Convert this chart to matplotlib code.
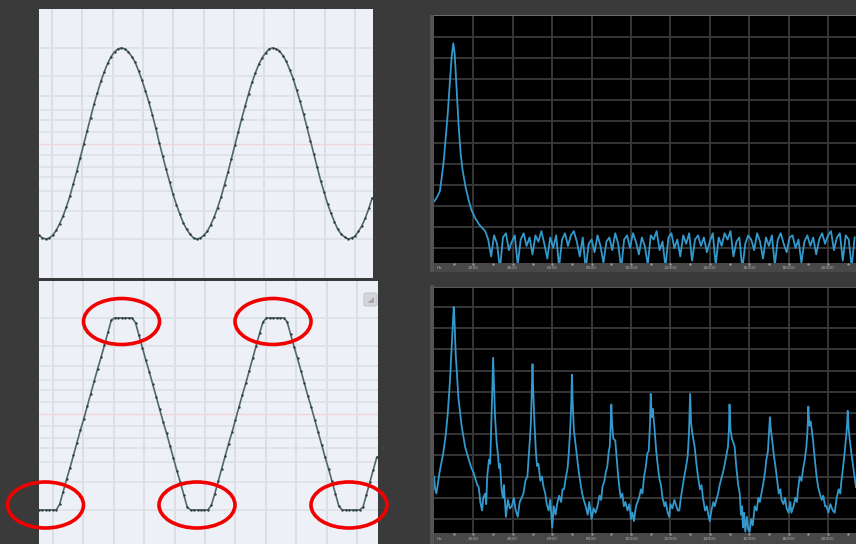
import numpy as np
import matplotlib.pyplot as plt
import matplotlib.patches as mpatches

# ---- waveform samples (44.1 kHz, 1 kHz tone)
clean_wave = [-0.96, -0.99, -1.00, -0.99, -0.96, -0.91, -0.84, -0.76, -0.66, -0.55,
              -0.42, -0.29, -0.15, -0.01, 0.13, 0.27, 0.41, 0.53, 0.65, 0.75,
              0.84, 0.91, 0.96, 0.99, 1.00, 0.99, 0.96, 0.91, 0.85, 0.76,
              0.66, 0.55, 0.43, 0.30, 0.16, 0.01, -0.13, -0.27, -0.40, -0.53,
              -0.64, -0.74, -0.83, -0.90, -0.95, -0.99, -1.00, -0.99, -0.96, -0.92,
              -0.85, -0.77, -0.67, -0.56, -0.43, -0.30, -0.16, -0.02, 0.12, 0.26,
              0.39, 0.52, 0.64, 0.74, 0.83, 0.90, 0.95, 0.99, 1.00, 0.99,
              0.97, 0.92, 0.86, 0.77, 0.68, 0.56, 0.44, 0.31, 0.17, 0.03,
              -0.11, -0.25, -0.39, -0.51, -0.63, -0.73, -0.82, -0.90, -0.95, -0.98,
              -1.00, -0.99, -0.97, -0.92, -0.86, -0.78, -0.68, -0.57]

clipped_wave = [-1.00, -1.00, -1.00, -1.00, -1.00, -1.00, -0.94, -0.81, -0.68, -0.56,
                -0.43, -0.30, -0.17, -0.05, 0.08, 0.21, 0.34, 0.47, 0.59, 0.72,
                0.85, 0.98, 1.00, 1.00, 1.00, 1.00, 1.00, 1.00, 0.95, 0.82,
                0.69, 0.56, 0.44, 0.31, 0.18, 0.05, -0.08, -0.20, -0.33, -0.46,
                -0.59, -0.71, -0.84, -0.97, -1.00, -1.00, -1.00, -1.00, -1.00, -1.00,
                -0.95, -0.83, -0.70, -0.57, -0.44, -0.31, -0.19, -0.06, 0.07, 0.20,
                0.32, 0.45, 0.58, 0.71, 0.84, 0.96, 1.00, 1.00, 1.00, 1.00,
                1.00, 1.00, 0.96, 0.83, 0.70, 0.58, 0.45, 0.32, 0.19, 0.07,
                -0.06, -0.19, -0.32, -0.45, -0.57, -0.70, -0.83, -0.96, -1.00, -1.00,
                -1.00, -1.00, -1.00, -1.00, -0.97, -0.84, -0.71, -0.58, -0.45]

# dB reference lines of the waveform view (0, -3, -6, -9, -12, -18 dB)
wave_levels = [1.0, 0.707, 0.5, 0.354, 0.25, 0.125]

# ---- spectrum of the clean tone
spec1_freq = [0, 150, 300, 400, 500, 600, 700, 800, 900, 980, 1050, 1150, 1250,
              1350, 1450, 1600, 1750, 1900, 2100, 2300, 2500]
spec1_db = [-78, -76, -73, -66, -58, -47, -36, -22, -9, -3, -8, -25, -42,
            -55, -63, -71, -77, -82, -86, -89, -91]
noise_freq = np.arange(2600, 21450, 150)
noise_db = [-92, -96, -104, -94, -98, -110, -95, -93, -101, -97,
            -94, -108, -96, -93, -99, -95, -103, -94, -97, -92,
            -98, -105, -95, -100, -94, -109, -96, -93, -99, -94,
            -92, -97, -104, -95, -110, -98, -96, -102, -94, -99,
            -107, -97, -95, -101, -93, -98, -110, -96, -94, -100,
            -93, -97, -103, -95, -99, -108, -94, -96, -92, -101,
            -97, -109, -95, -93, -100, -96, -104, -94, -98, -93,
            -106, -96, -94, -99, -95, -102, -97, -93, -108, -95,
            -99, -93, -96, -92, -104, -97, -95, -110, -98, -94,
            -96, -101, -93, -97, -105, -95, -99, -94, -108, -96,
            -93, -98, -102, -95, -94, -100, -96, -107, -97, -94,
            -99, -95, -103, -96, -93, -98, -94, -92, -101, -95,
            -93, -106, -94, -96, -109, -95]

# ---- spectrum of the clipped tone (odd harmonics)
spec2_freq = [0, 60, 120, 200, 300, 470, 600, 700, 810, 900, 960, 1000, 1040, 1100,
              1240, 1400, 1580, 1700, 1800, 1900, 2000, 2100, 2200, 2270, 2350, 2440,
              2500, 2600, 2650, 2700, 2790, 2850, 2900, 2950, 3000, 3050, 3100, 3180,
              3250, 3300, 3350, 3430, 3500, 3550, 3650, 3750, 3850, 3950, 4050, 4150,
              4250, 4350, 4450, 4540, 4640, 4740, 4800, 4870, 4920, 4960, 5000, 5040,
              5100, 5170, 5230, 5300, 5400, 5480, 5560, 5650, 5720, 5820, 5900, 6000,
              6080, 6170, 6250, 6350, 6450, 6520, 6600, 6700, 6780, 6840, 6900, 6960,
              7000, 7040, 7100, 7200, 7280, 7350, 7450, 7520, 7600, 7700, 7800, 7880,
              8000, 8100, 8200, 8300, 8400, 8480, 8550, 8650, 8720, 8800, 8870, 8920,
              8960, 9000, 9040, 9100, 9200, 9280, 9350, 9420, 9480, 9560, 9640, 9720,
              9820, 9920, 10000, 10070, 10150, 10250, 10330, 10410, 10500, 10580, 10660,
              10740, 10830, 10900, 10960, 11000, 11050, 11100, 11190, 11280, 11360,
              11440, 11520, 11600, 11700, 11760, 11860, 11940, 12000, 12100, 12200,
              12300, 12380, 12450, 12530, 12600, 12700, 12800, 12880, 12940, 13000,
              13050, 13120, 13230, 13320, 13400, 13500, 13580, 13650, 13760, 13850,
              13920, 14000, 14080, 14180, 14250, 14330, 14420, 14500, 14580, 14670,
              14760, 14840, 14920, 14970, 15000, 15050, 15120, 15260, 15350, 15440,
              15520, 15580, 15640, 15680, 15740, 15800, 15880, 15950, 16020, 16100,
              16180, 16280, 16380, 16460, 16540, 16620, 16700, 16800, 16870, 16950,
              17000, 17050, 17100, 17180, 17250, 17330, 17420, 17500, 17580, 17640,
              17740, 17820, 17900, 18000, 18080, 18140, 18250, 18340, 18420, 18480,
              18560, 18650, 18740, 18820, 18900, 18960, 19000, 19050, 19120, 19240,
              19330, 19420, 19500, 19580, 19680, 19760, 19850, 19920, 20020, 20120,
              20240, 20340, 20440, 20540, 20620, 20680, 20760, 20850, 20930, 20970,
              21000, 21050, 21120, 21200, 21320, 21420]
spec2_db = [-80, -86, -88, -83, -77, -69, -60, -50, -35, -18, -6, 0, -6, -22,
            -43, -56, -66, -70, -73, -76, -78, -81, -84, -85, -92, -96,
            -90, -88, -93, -80, -72, -74, -58, -42, -24, -38, -52, -64,
            -70, -76, -74, -86, -90, -84, -99, -91, -95, -94, -90, -96,
            -99, -92, -90, -88, -82, -80, -72, -62, -54, -40, -27, -40,
            -55, -68, -75, -74, -82, -80, -85, -88, -93, -96, -91, -104,
            -94, -98, -93, -89, -92, -86, -86, -80, -76, -69, -60, -48,
            -32, -45, -58, -66, -72, -78, -84, -88, -91, -94, -98, -92,
            -100, -95, -97, -94, -89, -91, -85, -82, -78, -75, -68, -66,
            -58, -46, -55, -62, -63, -72, -80, -86, -90, -88, -94, -92,
            -96, -93, -100, -97, -101, -94, -92, -90, -86, -88, -80,
            -76, -69, -68, -56, -41, -52, -48, -57, -68, -75,
            -81, -84, -90, -94, -92, -97, -99, -93, -95, -91,
            -94, -96, -96, -90, -86, -80, -75, -70, -60, -41,
            -55, -60, -66, -74, -80, -86, -84, -90, -96, -94,
            -98, -101, -96, -92, -94, -91, -88, -84, -81, -78,
            -74, -70, -66, -58, -46, -58, -62, -66, -76, -84,
            -88, -98, -94, -104, -97, -106, -99, -105, -106, -100,
            -103, -94, -96, -90, -92, -88, -84, -78, -72, -68,
            -60, -52, -58, -64, -70, -75, -82, -88, -86, -91,
            -93, -90, -95, -97, -92, -97, -94, -90, -92, -86,
            -80, -82, -76, -72, -66, -58, -47, -56, -54, -63,
            -72, -80, -85, -88, -91, -89, -94, -94, -97, -93,
            -96, -97, -90, -86, -88, -82, -76, -68, -60, -55,
            -49, -58, -64, -70, -78, -85]

axis_labels = ["2000", "4000", "6000", "8000", "10000", "12000",
               "14000", "16000", "18000", "20000"]

W, H = 856, 544
BG = "#3a3a3a"
fig = plt.figure(figsize=(W / 100, H / 100), dpi=100, facecolor=BG)


def px_axes(x0, y0, x1, y1):
    # axes placed by screen pixels (top-left origin)
    ax = fig.add_axes([x0 / W, 1 - y1 / H, (x1 - x0) / W, (y1 - y0) / H])
    for s in ax.spines.values():
        s.set_visible(False)
    ax.set_xticks([])
    ax.set_yticks([])
    return ax


def wave_panel(ax, samples, xmax, grid0, ylim):
    ax.set_facecolor("#eef0f7")
    t = np.arange(len(samples)) / 44.1   # ms
    for g in np.arange(grid0, xmax, 0.2):
        ax.axvline(g, color="#d9dde2", lw=1.3, zorder=1)
    for lv in wave_levels:
        ax.axhline(lv, color="#d9e0e3", lw=1.1, zorder=1)
        ax.axhline(-lv, color="#d9e0e3", lw=1.1, zorder=1)
    ax.axhline(0, color="#f0d4da", lw=1.0, zorder=1)
    ax.plot(t, samples, color="#50686a", lw=1.2, zorder=2,
            marker="o", ms=1.7, mfc="#2c3b3a", mec="none")
    ax.set_xlim(0, xmax)
    ax.set_ylim(*ylim)


def spectrum_panel(ax, ylim):
    ax.set_facecolor("black")
    for f in range(2000, 22000, 2000):
        ax.axvline(f, color="#3a3a3a", lw=1.3, zorder=1)
    for d in range(0, -101, -10):
        ax.axhline(d, color="#3a3a3a", lw=1.3, zorder=1)
    ax.set_xlim(0, 21420)
    ax.set_ylim(*ylim)


def freq_strip(y0, y1):
    ax = px_axes(434, y0, 856, y1)
    ax.set_facecolor("#484848")
    ax.set_xlim(0, 21420)
    ax.set_ylim(0, 1)
    ax.text(150, 0.45, "Hz", color="#b0b0b0", fontsize=3.2, va="center", ha="left")
    for i, lab in enumerate(axis_labels):
        ax.text(2000 * (i + 1), 0.45, lab, color="#b0b0b0", fontsize=3.2,
                va="center", ha="center")
    ax.plot(np.arange(1000, 21420, 1000), np.full(21, 0.93), ls="none",
            marker="s", ms=0.7, color="#9a9a9a")
    # left edge strip
    fig.add_artist(mpatches.Rectangle((430 / W, 1 - y1 / H), 4 / W, (y1 - y0 + 248) / H,
                                      transform=fig.transFigure, fc="#545454", ec="none"))


# ---- left: waveforms
ax1 = px_axes(39, 9, 373, 278)
wave_panel(ax1, clean_wave, 334 / 151.5, 0.086, (-1.408, 1.408))

ax2 = px_axes(39, 281, 378, 544)
wave_panel(ax2, clipped_wave, 339 / 152.0, 0.092, (-1.354, 1.385))

# small view button in the corner of the lower waveform
fig.add_artist(mpatches.FancyBboxPatch((364 / W, 1 - 306 / H), 13 / W, 13 / H,
                                       boxstyle="round,pad=0,rounding_size=0.003",
                                       transform=fig.transFigure,
                                       fc="#d6d7db", ec="#c3c4c8", lw=0.8))
fig.add_artist(mpatches.Polygon([(367 / W, 1 - 303 / H), (374 / W, 1 - 303 / H),
                                 (374 / W, 1 - 297 / H)], closed=True,
                                transform=fig.transFigure, fc="#a8a9ad", ec="none"))

# ---- right: spectra
fig.add_artist(mpatches.Rectangle((430 / W, 1 - 16 / H), 426 / W, 1.2 / H,
                                  transform=fig.transFigure, fc="#6a6a6a", ec="none"))
ax3 = px_axes(434, 16, 856, 263)
spectrum_panel(ax3, (-107.1, 9.95))
ax3.plot(list(spec1_freq) + list(noise_freq), spec1_db + noise_db,
         color="#3399cc", lw=1.3, zorder=2)
freq_strip(263, 272)

fig.add_artist(mpatches.Rectangle((430 / W, 1 - 288 / H), 426 / W, 1.2 / H,
                                  transform=fig.transFigure, fc="#5a5a5a", ec="none"))
ax4 = px_axes(434, 288, 856, 533)
spectrum_panel(ax4, (-106.6, 8.9))
ax4.plot(spec2_freq, spec2_db, color="#3399cc", lw=1.3, zorder=2)
freq_strip(533, 544)

# ---- red circles marking the clipped tops and bottoms
ellipse_centres = [(121.5, 321.5), (273, 321.5), (45.5, 505), (197, 505), (349, 505)]
for cx, cy in ellipse_centres:
    fig.add_artist(mpatches.Ellipse((cx / W, 1 - cy / H), 76 / W, 46 / H,
                                    transform=fig.transFigure, fill=False,
                                    ec="#f20000", lw=2.6))

fig.savefig("out.png", dpi=100, facecolor=BG)
